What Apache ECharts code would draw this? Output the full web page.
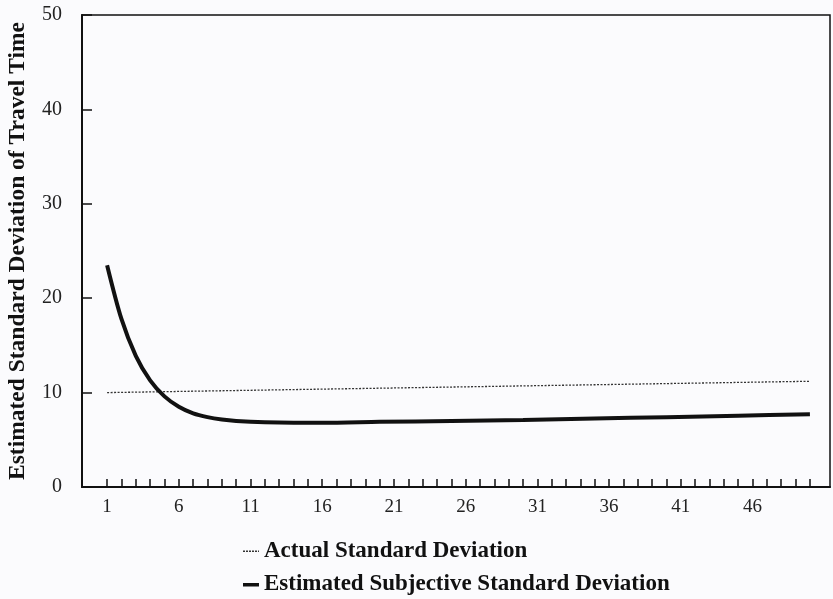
<!DOCTYPE html>
<html>
<head>
<meta charset="utf-8">
<script src="https://cdn.jsdelivr.net/npm/echarts@6/dist/echarts.min.js"></script>
<style>
html,body{margin:0;padding:0;background:#fbfbfd;}
#main{width:833px;height:599px;}
</style>
</head>
<body>
<div id="main"></div>
<script>
// values (trip number -> standard deviation of travel time)
var subjX = [1, 2, 3, 4, 5, 6, 7, 8, 9, 10, 12, 14, 16, 20, 25, 30, 35, 40, 45, 50];
var subjY = [23.5, 17.8, 13.9, 11.3, 9.6, 8.5, 7.8, 7.4, 7.15, 7.0, 6.85, 6.8, 6.8, 6.9, 7.0, 7.1, 7.25, 7.4, 7.55, 7.7];
var actualX = [1, 50];
var actualY = [10.0, 11.2];
var xTicks = [];
for (var t = 1; t <= 50; t++) xTicks.push(t);
var xLabels = [1, 6, 11, 16, 21, 26, 31, 36, 41, 46];

var serif = '"Liberation Serif", "DejaVu Serif", serif';

function pairs(xs, ys) {
    return xs.map(function (x, i) { return [x, ys[i]]; });
}

var legendText = {color: '#111', fontFamily: serif, fontSize: 23, fontWeight: 'bold'};

var chart = echarts.init(document.getElementById('main'));
var option = {
    backgroundColor: '#fbfbfd',
    animation: false,
    grid: {
        left: 82, right: 3, top: 15, bottom: 112,
        outerBoundsMode: 'none',
        show: true, borderColor: '#111', borderWidth: 1.5
    },
    xAxis: {
        type: 'value',
        min: -0.75, max: 51.4,
        axisLine: {show: true, onZero: false, lineStyle: {color: '#111', width: 2}},
        axisTick: {show: true, inside: true, length: 8, customValues: xTicks, lineStyle: {color: '#111', width: 1.5}},
        axisLabel: {customValues: xLabels, color: '#222', fontFamily: serif, fontSize: 19, margin: 11},
        splitLine: {show: false}
    },
    yAxis: {
        type: 'value',
        min: 0, max: 50, interval: 10,
        name: 'Estimated Standard Deviation of Travel Time',
        nameLocation: 'middle',
        nameGap: 52,
        nameTextStyle: {color: '#111', fontFamily: serif, fontSize: 23.5, fontWeight: 'bold'},
        axisLine: {show: true, onZero: false, lineStyle: {color: '#111', width: 2}},
        axisTick: {show: true, inside: true, length: 10, lineStyle: {color: '#111', width: 1.5}},
        axisLabel: {color: '#222', fontFamily: serif, fontSize: 20, margin: 20},
        splitLine: {show: false}
    },
    legend: [
        {
            left: 238, top: 535,
            itemWidth: 16, itemHeight: 12,
            textStyle: legendText,
            data: [{name: 'Actual Standard Deviation', icon: 'path://M0,5h2v1.5h-2zM3,5h2v1.5h-2zM6,5h2v1.5h-2zM9,5h2v1.5h-2zM12,5h2v1.5h-2zM15,5h1v1.5h-1zM0,0h0.01v0.01h-0.01zM0,12h0.01v0.01h-0.01z'}]
        },
        {
            left: 238, top: 568,
            itemWidth: 16, itemHeight: 12,
            textStyle: legendText,
            data: [{name: 'Estimated Subjective Standard Deviation', icon: 'path://M0,4.5h16v3.5h-16zM0,0h0.01v0.01h-0.01zM0,12h0.01v0.01h-0.01z'}]
        }
    ],
    series: [
        {
            name: 'Actual Standard Deviation',
            type: 'line',
            data: pairs(actualX, actualY),
            symbol: 'none',
            itemStyle: {color: '#333'},
            lineStyle: {color: '#333', width: 1.3, type: [2, 1.5]}
        },
        {
            name: 'Estimated Subjective Standard Deviation',
            type: 'line',
            data: pairs(subjX, subjY),
            symbol: 'none',
            smooth: 0.3,
            itemStyle: {color: '#111'},
            lineStyle: {color: '#111', width: 4}
        }
    ]
};
chart.setOption(option);
</script>
</body>
</html>
